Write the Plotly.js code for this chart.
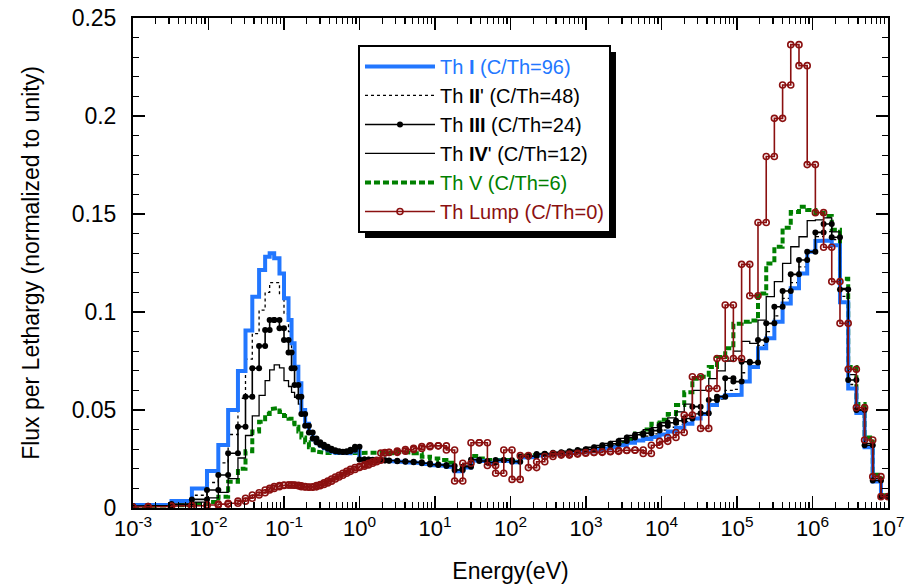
<!DOCTYPE html>
<html>
<head>
<meta charset="utf-8">
<script src="https://cdn.plot.ly/plotly-3.0.1.min.js"></script>
<style>
  html, body { margin: 0; padding: 0; background: #ffffff; }
  #chart { width: 916px; height: 584px; }
</style>
</head>
<body>
<div id="chart"></div>
<script>
// Group boundaries, as log10(E / eV)
const edgeExp = [
  -3.0, -2.8, -2.49, -2.22, -2.02, -1.87, -1.74, -1.61, -1.51, -1.42,
  -1.33, -1.25, -1.19, -1.13, -1.06, -1.0, -0.94, -0.9, -0.86, -0.81,
  -0.77, -0.72, -0.67, -0.62, -0.57, -0.52, -0.47, -0.42, -0.37, -0.32,
  -0.27, -0.22, -0.17, -0.12, -0.06,
  0.0, 0.065, 0.12, 0.174, 0.228, 0.282, 0.337,
  0.391, 0.500, 0.608, 0.717, 0.825, 0.934, 1.043, 1.151, 1.260, 1.368,
  1.477, 1.586, 1.694, 1.803, 1.911, 2.020, 2.129, 2.237, 2.346, 2.454,
  2.563, 2.672, 2.780, 2.889, 2.997, 3.106, 3.215, 3.323, 3.432, 3.540,
  3.649, 3.758, 3.866, 3.975, 4.083, 4.192, 4.301, 4.409, 4.518, 4.626,
  4.735, 4.844, 4.952, 5.061, 5.169, 5.278, 5.387, 5.495, 5.604, 5.712,
  5.821, 5.930, 6.038, 6.147, 6.255, 6.364, 6.473, 6.581, 6.690, 6.798,
  6.907, 7.0
];

// Flux per lethargy in each group (normalized to unity)
const thI = [
  0.0015, 0.0015, 0.0036, 0.0100, 0.0189, 0.0321, 0.0500, 0.0699, 0.0905, 0.1078,
  0.1214, 0.1282, 0.1300, 0.1274, 0.1197, 0.1070, 0.0959, 0.0840, 0.0721, 0.0636,
  0.0500, 0.0430, 0.0385, 0.0350, 0.0330, 0.0318, 0.0305, 0.0295, 0.0287, 0.0281,
  0.0277, 0.0276, 0.0279, 0.0288, 0.0305,
  0.0246, 0.0245, 0.0244, 0.0243, 0.0242, 0.0241, 0.0240,
  0.0238, 0.0235, 0.0233, 0.0230, 0.0225, 0.0219, 0.0216, 0.0211, 0.0188, 0.0207,
  0.0243, 0.0238, 0.0230, 0.0242, 0.0240, 0.0233, 0.0258, 0.0260, 0.0268, 0.0270,
  0.0274, 0.0277, 0.0280, 0.0285, 0.0289, 0.0296, 0.0303, 0.0310, 0.0320, 0.0333,
  0.0345, 0.0352, 0.0362, 0.0375, 0.0390, 0.0410, 0.0430, 0.0457, 0.0480, 0.0525,
  0.0565, 0.0575, 0.0578, 0.0645, 0.0720, 0.0815, 0.0866, 0.0950, 0.1044, 0.1121,
  0.1197, 0.1308, 0.1362, 0.1365, 0.1340, 0.1050, 0.0610, 0.0485, 0.0310, 0.0135,
  0.0058
];
const thII = [
  0.0012, 0.0013, 0.0028, 0.0065, 0.0130, 0.0230, 0.0375, 0.0560, 0.0760, 0.0890,
  0.1010, 0.1100, 0.1150, 0.1150, 0.1090, 0.0990, 0.0900, 0.0810, 0.0715, 0.0625,
  0.0495, 0.0428, 0.0385, 0.0350, 0.0330, 0.0318, 0.0306, 0.0296, 0.0289, 0.0284,
  0.0281, 0.0280, 0.0283, 0.0292, 0.0307,
  0.0247, 0.0246, 0.0245, 0.0244, 0.0243, 0.0242, 0.0241,
  0.0240, 0.0237, 0.0235, 0.0232, 0.0227, 0.0221, 0.0218, 0.0213, 0.0192, 0.0210,
  0.0245, 0.0239, 0.0231, 0.0244, 0.0242, 0.0235, 0.0261, 0.0263, 0.0272, 0.0274,
  0.0278, 0.0281, 0.0285, 0.0290, 0.0295, 0.0303, 0.0311, 0.0319, 0.0331, 0.0346,
  0.0360, 0.0367, 0.0378, 0.0397, 0.0412, 0.0427, 0.0440, 0.0480, 0.0475, 0.0530,
  0.0555, 0.0600, 0.0605, 0.0690, 0.0740, 0.0830, 0.0900, 0.0980, 0.1070, 0.1150,
  0.1230, 0.1310, 0.1385, 0.1410, 0.1370, 0.1080, 0.0630, 0.0490, 0.0315, 0.0138,
  0.0058
];
const thIII = [
  0.0010, 0.0012, 0.0020, 0.0044, 0.0092, 0.0168, 0.0279, 0.0415, 0.0568, 0.0713,
  0.0827, 0.0908, 0.0959, 0.0959, 0.0917, 0.0857, 0.0793, 0.0713, 0.0628, 0.0568,
  0.0480, 0.0420, 0.0385, 0.0355, 0.0335, 0.0323, 0.0312, 0.0302, 0.0295, 0.0290,
  0.0287, 0.0286, 0.0289, 0.0297, 0.0313,
  0.0248, 0.0247, 0.0246, 0.0245, 0.0244, 0.0243, 0.0242,
  0.0241, 0.0238, 0.0236, 0.0233, 0.0228, 0.0222, 0.0219, 0.0214, 0.0194, 0.0211,
  0.0246, 0.0240, 0.0232, 0.0245, 0.0243, 0.0236, 0.0262, 0.0265, 0.0275, 0.0277,
  0.0282, 0.0285, 0.0290, 0.0296, 0.0300, 0.0310, 0.0320, 0.0328, 0.0342, 0.0360,
  0.0374, 0.0382, 0.0395, 0.0420, 0.0435, 0.0445, 0.0457, 0.0517, 0.0483, 0.0551,
  0.0568, 0.0662, 0.0645, 0.0746, 0.0742, 0.0857, 0.0942, 0.1027, 0.1107, 0.1192,
  0.1265, 0.1307, 0.1406, 0.1449, 0.1381, 0.1115, 0.0653, 0.0500, 0.0320, 0.0140,
  0.0060
];
const thIV = [
  0.0010, 0.0010, 0.0012, 0.0030, 0.0052, 0.0080, 0.0150, 0.0255, 0.0370, 0.0470,
  0.0575, 0.0650, 0.0705, 0.0730, 0.0715, 0.0650, 0.0620, 0.0590, 0.0565, 0.0530,
  0.0470, 0.0415, 0.0380, 0.0352, 0.0333, 0.0321, 0.0310, 0.0300, 0.0293, 0.0288,
  0.0285, 0.0284, 0.0287, 0.0295, 0.0310,
  0.0249, 0.0248, 0.0247, 0.0246, 0.0245, 0.0244, 0.0243,
  0.0242, 0.0240, 0.0238, 0.0235, 0.0230, 0.0224, 0.0221, 0.0216, 0.0196, 0.0213,
  0.0248, 0.0242, 0.0234, 0.0247, 0.0246, 0.0239, 0.0265, 0.0268, 0.0278, 0.0280,
  0.0285, 0.0290, 0.0295, 0.0300, 0.0310, 0.0320, 0.0330, 0.0340, 0.0355, 0.0370,
  0.0385, 0.0400, 0.0410, 0.0435, 0.0460, 0.0490, 0.0530, 0.0600, 0.0600, 0.0660,
  0.0700, 0.0750, 0.0800, 0.0850, 0.0840, 0.0959, 0.1078, 0.1155, 0.1248, 0.1333,
  0.1384, 0.1466, 0.1470, 0.1480, 0.1409, 0.1121, 0.0680, 0.0500, 0.0330, 0.0150,
  0.0060
];
const thV = [
  0.0010, 0.0012, 0.0015, 0.0020, 0.0030, 0.0058, 0.0134, 0.0200, 0.0290, 0.0390,
  0.0440, 0.0480, 0.0505, 0.0510, 0.0490, 0.0470, 0.0455, 0.0435, 0.0415, 0.0390,
  0.0360, 0.0335, 0.0310, 0.0295, 0.0287, 0.0283, 0.0280, 0.0280, 0.0280, 0.0280,
  0.0280, 0.0280, 0.0280, 0.0280, 0.0282,
  0.0280, 0.0280, 0.0282, 0.0284, 0.0285, 0.0284, 0.0282,
  0.0279, 0.0287, 0.0282, 0.0279, 0.0262, 0.0253, 0.0245, 0.0231, 0.0194, 0.0211,
  0.0265, 0.0253, 0.0245, 0.0241, 0.0245, 0.0236, 0.0265, 0.0270, 0.0272, 0.0275,
  0.0279, 0.0284, 0.0287, 0.0293, 0.0300, 0.0304, 0.0313, 0.0321, 0.0333, 0.0350,
  0.0380, 0.0400, 0.0430, 0.0450, 0.0480, 0.0525, 0.0590, 0.0660, 0.0670, 0.0720,
  0.0770, 0.0815, 0.0940, 0.0950, 0.0957, 0.1095, 0.1248, 0.1333, 0.1430, 0.1510,
  0.1537, 0.1520, 0.1505, 0.1490, 0.1420, 0.1170, 0.0720, 0.0530, 0.0360, 0.0170,
  0.0065
];
const thLump = [
  0.0005, 0.0008, 0.0010, 0.0012, 0.0015, 0.0020, 0.0024, 0.0035, 0.0050, 0.0066,
  0.0078, 0.0092, 0.0100, 0.0109, 0.0115, 0.0117, 0.0117, 0.0117, 0.0116, 0.0113,
  0.0109, 0.0107, 0.0106, 0.0108, 0.0114, 0.0120, 0.0128, 0.0137, 0.0148, 0.0158,
  0.0167, 0.0177, 0.0187, 0.0197, 0.0207,
  0.0213, 0.0220, 0.0228, 0.0236, 0.0244, 0.0280, 0.0283,
  0.0284, 0.0290, 0.0298, 0.0304, 0.0313, 0.0317, 0.0317, 0.0296, 0.0138, 0.0228,
  0.0333, 0.0333, 0.0217, 0.0177, 0.0296, 0.0146, 0.0267, 0.0206, 0.0236, 0.0263,
  0.0275, 0.0270, 0.0275, 0.0279, 0.0283, 0.0284, 0.0287, 0.0289, 0.0293, 0.0295,
  0.0296, 0.0278, 0.0320, 0.0340, 0.0360, 0.0385, 0.0474, 0.0670, 0.0406, 0.0610,
  0.0763, 0.1036, 0.0763, 0.1243, 0.1083, 0.1457, 0.1793, 0.1988, 0.2158, 0.2364,
  0.2257, 0.1752, 0.1507, 0.1330, 0.1155, 0.0942, 0.0708, 0.0512, 0.0347, 0.0160,
  0.0058
];

const seriesNames = [
  '<span style="color:#2277ff">Th <b>I</b> (C/Th=96)</span>',
  "Th <b>II</b>' (C/Th=48)",
  'Th <b>III</b> (C/Th=24)',
  "Th <b>IV</b>' (C/Th=12)",
  '<span style="color:#008000">Th V (C/Th=6)</span>',
  '<span style="color:#8b1010">Th Lump (C/Th=0)</span>'
];

const xTickVals = [1e-3, 1e-2, 1e-1, 1e0, 1e1, 1e2, 1e3, 1e4, 1e5, 1e6, 1e7];
const xTickText = ['10<sup>-3</sup>', '10<sup>-2</sup>', '10<sup>-1</sup>', '10<sup>0</sup>',
  '10<sup>1</sup>', '10<sup>2</sup>', '10<sup>3</sup>', '10<sup>4</sup>',
  '10<sup>5</sup>', '10<sup>6</sup>', '10<sup>7</sup>'];

// Histogram outline: each group contributes its left and right edge at its level
function stepPath(values) {
  const x = [], y = [];
  for (let i = 0; i < values.length; i++) {
    x.push(Math.pow(10, edgeExp[i]), Math.pow(10, edgeExp[i + 1]));
    y.push(values[i], values[i]);
  }
  return { x, y };
}

function trace(values, name, group, rank, line, marker) {
  const p = stepPath(values);
  const t = {
    type: 'scatter',
    mode: marker ? 'lines+markers' : 'lines',
    x: p.x, y: p.y,
    name: name,
    legendgroup: group,
    legendrank: rank,
    line: line
  };
  if (marker) t.marker = marker;
  return t;
}

const data = [
  trace(thV, seriesNames[4], 'g5', 5, { color: '#008000', width: 4, dash: '6px,3px' }),
  trace(thIV, seriesNames[3], 'g4', 4, { color: '#000000', width: 1.3 }),
  trace(thII, seriesNames[1], 'g2', 2, { color: '#000000', width: 1.3, dash: '3px,3px' }),
  trace(thI, seriesNames[0], 'g1', 1, { color: '#2277ff', width: 4 }),
  trace(thIII, seriesNames[2], 'g3', 3, { color: '#000000', width: 1.6 },
        { symbol: 'circle', size: 6, color: '#000000' }),
  trace(thLump, seriesNames[5], 'g6', 6, { color: '#8b1010', width: 1.6 },
        { symbol: 'circle-open', size: 6, color: '#8b1010', line: { width: 1.6, color: '#8b1010' } })
];

const fontFamily = 'Liberation Sans, Arial, Helvetica, sans-serif';

const layout = {
  width: 916,
  height: 584,
  margin: { l: 133, r: 28, t: 18, b: 76 },
  paper_bgcolor: '#ffffff',
  plot_bgcolor: '#ffffff',
  font: { family: fontFamily, size: 22, color: '#000000' },
  showlegend: true,
  legend: {
    x: 0.298, y: 0.945, xanchor: 'left', yanchor: 'top',
    bgcolor: '#ffffff', bordercolor: '#000000', borderwidth: 2,
    font: { family: fontFamily, size: 20, color: '#000000' },
    itemwidth: 70,
    tracegroupgap: 0,
    traceorder: 'grouped'
  },
  xaxis: {
    type: 'log',
    range: [-3, 7],
    tickmode: 'array',
    tickvals: xTickVals,
    ticktext: xTickText,
    ticks: 'inside', ticklen: 12, tickwidth: 1.5, tickcolor: '#000000',
    minor: { dtick: 'D1', ticks: 'inside', ticklen: 6, tickwidth: 1.2, tickcolor: '#000000', showgrid: false },
    showline: true, linewidth: 2, linecolor: '#000000', mirror: 'ticks',
    showgrid: false, zeroline: false,
    tickfont: { size: 22 },
    title: { text: 'Energy(eV)', font: { size: 23 }, standoff: 24 }
  },
  yaxis: {
    range: [0, 0.25],
    tickmode: 'linear', tick0: 0, dtick: 0.05,
    ticks: 'inside', ticklen: 12, tickwidth: 1.5, tickcolor: '#000000',
    minor: { dtick: 0.01, ticks: 'inside', ticklen: 6, tickwidth: 1.2, tickcolor: '#000000', showgrid: false },
    showline: true, linewidth: 2, linecolor: '#000000', mirror: 'ticks',
    showgrid: false, zeroline: false,
    ticklabelstandoff: 10,
    tickfont: { size: 23 },
    title: { text: 'Flux per Lethargy (normalized to unity)', font: { size: 23 }, standoff: 26 }
  }
};

const gd = document.getElementById('chart');
Plotly.newPlot(gd, data, layout, { staticPlot: true, displayModeBar: false }).then(() => {
  // Drop shadow offset below and right of the legend frame
  const bg = gd.querySelector('.legend .bg');
  if (!bg) return;
  const lb = bg.getBoundingClientRect();
  const cb = gd.getBoundingClientRect();
  const s = gd._fullLayout._size;
  const off = 6;
  const px = v => (v - s.l) / s.w;
  const py = v => 1 - (v - s.t) / s.h;
  return Plotly.relayout(gd, {
    shapes: [{
      type: 'rect', xref: 'paper', yref: 'paper', layer: 'above',
      x0: px(lb.left - cb.left + off), x1: px(lb.right - cb.left + off),
      y0: py(lb.bottom - cb.top + off), y1: py(lb.top - cb.top + off),
      fillcolor: '#000000', line: { width: 0 }
    }]
  });
});
</script>
</body>
</html>
